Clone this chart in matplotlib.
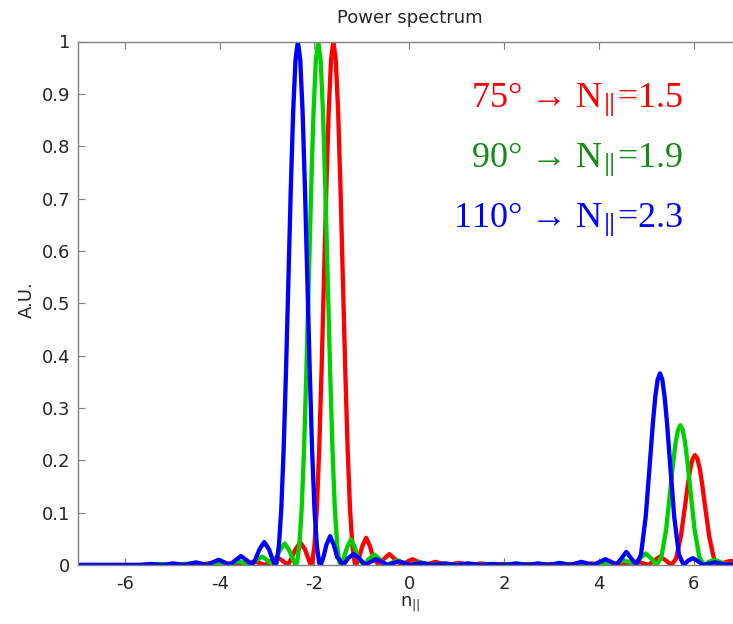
import matplotlib
matplotlib.use("Agg")
import matplotlib.pyplot as plt
import numpy as np

plt.rcParams["font.family"] = ["DejaVu Sans"]
plt.rcParams["mathtext.fontset"] = "dejavusans"
plt.rcParams["axes.unicode_minus"] = False

# values, (n_par, A.U.)
red_pts = [
    (-7.0, 0.0), (-5.0, 0.0), (-4.72, 0.002), (-4.48, 0.0), (-4.24, 0.003), (-4.0, 0.0),
    (-3.75, 0.004), (-3.52, 0.0), (-3.27, 0.007), (-3.04, 0.0), (-2.91, 0.008), (-2.79, 0.015),
    (-2.67, 0.008), (-2.56, 0.0), (-2.49, 0.012), (-2.40, 0.030), (-2.30, 0.043), (-2.20, 0.030),
    (-2.13, 0.012), (-2.08, 0.0), (-2.05, 0.004), (-2.00, 0.037), (-1.95, 0.107), (-1.90, 0.221),
    (-1.85, 0.372), (-1.80, 0.544), (-1.75, 0.717), (-1.70, 0.865), (-1.65, 0.965), (-1.60, 1.0),
    (-1.55, 0.965), (-1.50, 0.865), (-1.45, 0.717), (-1.40, 0.544), (-1.35, 0.372), (-1.30, 0.221),
    (-1.25, 0.107), (-1.20, 0.037), (-1.15, 0.004), (-1.12, 0.0), (-1.06, 0.014), (-0.99, 0.036),
    (-0.91, 0.052), (-0.83, 0.036), (-0.76, 0.014), (-0.64, 0.0), (-0.54, 0.011), (-0.42, 0.021),
    (-0.30, 0.011), (-0.16, 0.0), (-0.05, 0.006), (0.07, 0.011), (0.19, 0.006), (0.32, 0.0),
    (0.55, 0.006), (0.80, 0.0), (1.05, 0.004), (1.28, 0.0), (1.52, 0.003), (1.76, 0.0),
    (2.00, 0.002), (2.25, 0.0), (2.50, 0.002), (2.75, 0.0), (3.00, 0.002), (3.25, 0.0),
    (3.40, 0.002), (3.60, 0.0), (3.85, 0.003), (4.10, 0.0), (4.33, 0.004), (4.57, 0.0),
    (4.80, 0.007), (5.05, 0.0), (5.17, 0.009), (5.29, 0.016), (5.41, 0.009), (5.53, 0.0),
    (5.63, 0.012), (5.73, 0.054), (5.83, 0.120), (5.88, 0.155), (5.93, 0.184), (5.98, 0.203),
    (6.03, 0.210), (6.08, 0.203), (6.13, 0.184), (6.18, 0.155), (6.23, 0.120), (6.33, 0.054),
    (6.43, 0.012), (6.53, 0.0), (6.66, 0.005), (6.78, 0.008), (6.90, 0.005), (7.0, 0.002),
]

green_pts = [
    (-7.0, 0.0), (-5.6, 0.0), (-5.3, 0.002), (-5.0, 0.0), (-4.56, 0.003), (-4.32, 0.0),
    (-4.08, 0.004), (-3.84, 0.0), (-3.60, 0.007), (-3.36, 0.0), (-3.25, 0.008), (-3.10, 0.016),
    (-2.98, 0.008), (-2.88, 0.0), (-2.81, 0.012), (-2.73, 0.028), (-2.63, 0.041), (-2.53, 0.028),
    (-2.46, 0.012), (-2.40, 0.0), (-2.37, 0.004), (-2.32, 0.037), (-2.27, 0.107), (-2.22, 0.221),
    (-2.17, 0.372), (-2.12, 0.544), (-2.07, 0.717), (-2.02, 0.865), (-1.97, 0.965), (-1.92, 1.0),
    (-1.87, 0.965), (-1.82, 0.865), (-1.77, 0.717), (-1.72, 0.544), (-1.67, 0.372), (-1.62, 0.221),
    (-1.57, 0.107), (-1.52, 0.037), (-1.47, 0.004), (-1.44, 0.0), (-1.38, 0.014), (-1.31, 0.034),
    (-1.23, 0.049), (-1.15, 0.034), (-1.08, 0.014), (-0.96, 0.0), (-0.86, 0.011), (-0.74, 0.020),
    (-0.62, 0.011), (-0.48, 0.0), (-0.25, 0.009), (0.0, 0.0), (0.24, 0.005), (0.48, 0.0),
    (0.73, 0.003), (0.98, 0.0), (1.22, 0.002), (1.46, 0.0), (1.70, 0.002), (1.95, 0.0),
    (2.20, 0.002), (2.45, 0.0), (2.70, 0.002), (2.95, 0.0), (3.20, 0.003), (3.45, 0.0),
    (3.65, 0.003), (3.85, 0.0), (4.07, 0.004), (4.30, 0.0), (4.41, 0.005), (4.53, 0.009),
    (4.65, 0.005), (4.77, 0.0), (4.86, 0.012), (4.99, 0.022), (5.11, 0.012), (5.22, 0.0),
    (5.32, 0.015), (5.42, 0.068), (5.52, 0.153), (5.57, 0.197), (5.62, 0.234), (5.67, 0.258),
    (5.72, 0.267), (5.77, 0.258), (5.82, 0.234), (5.87, 0.197), (5.92, 0.153), (6.02, 0.068),
    (6.12, 0.015), (6.22, 0.0), (6.32, 0.006), (6.44, 0.010), (6.56, 0.006), (6.70, 0.0),
    (7.0, 0.003),
]

blue_pts = [
    (-7.0, 0.0), (-5.7, 0.0), (-5.45, 0.002), (-5.2, 0.0), (-4.98, 0.003), (-4.75, 0.0),
    (-4.50, 0.005), (-4.27, 0.0), (-4.15, 0.005), (-4.02, 0.010), (-3.90, 0.005), (-3.79, 0.0),
    (-3.67, 0.009), (-3.55, 0.017), (-3.43, 0.009), (-3.31, 0.0), (-3.24, 0.012), (-3.16, 0.030),
    (-3.06, 0.044), (-2.96, 0.030), (-2.89, 0.012), (-2.83, 0.0), (-2.80, 0.004), (-2.75, 0.037),
    (-2.70, 0.107), (-2.65, 0.221), (-2.60, 0.372), (-2.55, 0.544), (-2.50, 0.717), (-2.45, 0.865),
    (-2.40, 0.965), (-2.35, 1.0), (-2.30, 0.965), (-2.25, 0.865), (-2.20, 0.717), (-2.15, 0.544),
    (-2.10, 0.372), (-2.05, 0.221), (-2.00, 0.107), (-1.95, 0.037), (-1.90, 0.004), (-1.87, 0.0),
    (-1.81, 0.015), (-1.75, 0.038), (-1.67, 0.055), (-1.59, 0.038), (-1.52, 0.015), (-1.39, 0.0),
    (-1.29, 0.013), (-1.17, 0.021), (-1.05, 0.012), (-0.93, 0.0), (-0.82, 0.006), (-0.70, 0.011),
    (-0.58, 0.006), (-0.46, 0.0), (-0.22, 0.007), (0.02, 0.0), (0.26, 0.004), (0.50, 0.0),
    (0.75, 0.003), (1.00, 0.0), (1.25, 0.003), (1.50, 0.0), (1.75, 0.002), (2.00, 0.0),
    (2.25, 0.003), (2.50, 0.0), (2.72, 0.003), (2.95, 0.0), (3.17, 0.004), (3.40, 0.0),
    (3.63, 0.006), (3.88, 0.0), (4.02, 0.006), (4.14, 0.011), (4.26, 0.006), (4.37, 0.0),
    (4.48, 0.013), (4.58, 0.025), (4.68, 0.013), (4.79, 0.0), (4.89, 0.020), (4.99, 0.093),
    (5.09, 0.210), (5.14, 0.270), (5.19, 0.320), (5.24, 0.354), (5.29, 0.366), (5.34, 0.354),
    (5.39, 0.320), (5.44, 0.270), (5.49, 0.210), (5.59, 0.093), (5.69, 0.020), (5.79, 0.0),
    (5.88, 0.008), (5.98, 0.013), (6.08, 0.008), (6.20, 0.0), (6.45, 0.005), (6.70, 0.0),
    (7.0, 0.002),
]

series = [red_pts, green_pts, blue_pts]
line_colors = ["#ff0000", "#00d000", "#0000ff"]
note_colors = ["#ff0000", "#168a16", "#0000ff"]
notes = [r"75° → N$_{\Vert}$=1.5", r"90° → N$_{\Vert}$=1.9", r"110° → N$_{\Vert}$=2.3"]

x_ticks = [-6, -4, -2, 0, 2, 4, 6]
y_ticks = [0, 0.1, 0.2, 0.3, 0.4, 0.5, 0.6, 0.7, 0.8, 0.9, 1]
y_tick_labels = ["0", "0.1", "0.2", "0.3", "0.4", "0.5", "0.6", "0.7", "0.8", "0.9", "1"]

W, H = 733, 624
fig = plt.figure(figsize=(W / 100, H / 100), dpi=100)
# right edge of the axes lies just outside the picture, as in the reference
ax = fig.add_axes([77.5 / W, 1 - 565 / H, (741 - 77.5) / W, (565 - 41.5) / H])

for pts, c in zip(series, line_colors):
    xy = np.array(pts)
    ax.plot(xy[:, 0], xy[:, 1], color=c, lw=3.1, solid_joinstyle="round")

ax.set_xlim(-7, 7)
ax.set_ylim(0, 1)
ax.set_xticks(x_ticks)
ax.set_yticks(y_ticks)
ax.set_yticklabels(y_tick_labels)
ax.tick_params(direction="in", top=True, right=True, length=5, width=0.8,
               color="#808080", labelsize=13, labelcolor="#262626")
ax.tick_params(axis="x", pad=7)
ax.tick_params(axis="y", pad=5)
for s in ax.spines.values():
    s.set_color("#808080")
    s.set_linewidth(1.0)

fig.text(410 / W, 1 - 18 / H, "Power spectrum", ha="center", va="center",
         fontsize=13, color="#262626")
fig.text(27 / W, 1 - 300 / H, "A.U.", ha="center", va="center", rotation=90,
         fontsize=13, color="#262626")
fig.text(410 / W, 1 - 607 / H, r"n$_{||}$", ha="center", va="baseline",
         fontsize=13, color="#262626")

for i, (t, c) in enumerate(zip(notes, note_colors)):
    fig.text(683 / W, 1 - (107 + 60 * i) / H, t, ha="right", va="baseline",
             fontsize=26, color=c, family=["Liberation Serif", "DejaVu Serif"],
             math_fontfamily="stix")

fig.savefig("out.png", dpi=100, facecolor="white")
